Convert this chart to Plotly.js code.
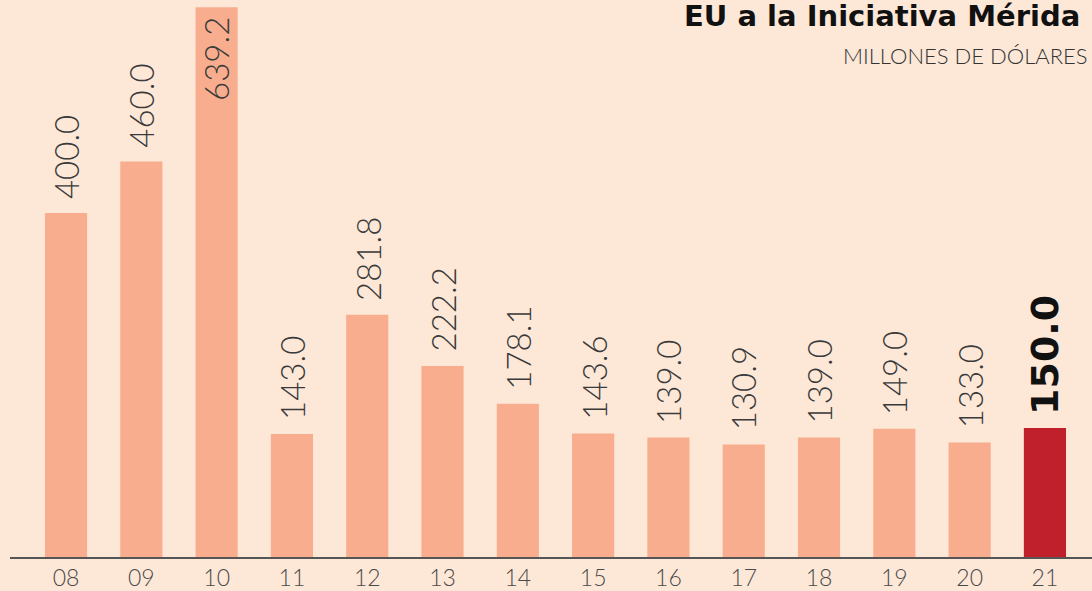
<!DOCTYPE html>
<html><head><meta charset="utf-8">
<script src="https://cdn.plot.ly/plotly-3.0.1.min.js"></script>
<style>html,body{margin:0;padding:0;background:#fde8d8;}#chart{width:1092px;height:591px;}</style>
</head><body><div id="chart"></div>
<script>
const years = ['08','09','10','11','12','13','14','15','16','17','18','19','20','21'];
const values = [400.0,460.0,639.2,143.0,281.8,222.2,178.1,143.6,139.0,130.9,139.0,149.0,133.0,150.0];
const labels = ['400.0','460.0','639.2','143.0','281.8','222.2','178.1','143.6','139.0','130.9','139.0','149.0','133.0','150.0'];
const title = 'EU a la Iniciativa Mérida';
const subtitle = 'MILLONES DE DÓLARES';

const last = values.length - 1;
const colors = values.map((v,i)=> i===last ? '#c0202b' : '#f8ae8e');

const trace = {
  type:'bar', x: years, y: values,
  marker:{color:colors}, hoverinfo:'none'
};

const valueAnns = years.map((yr,i)=>{
  const isLast = i===last;
  const inside = i===2;
  return {
    xref:'x', yref:'y', x: i, y: values[i], text: labels[i], showarrow:false,
    textangle:-90, xanchor:'center', yanchor: inside ? 'top' : 'bottom',
    yshift: inside ? -8 : (isLast ? 11 : 12),
    font: isLast ? {family:'DejaVu Sans', size:38, color:'#111', weight:'bold'}
                 : {family:'Lato', size:33, color:'#3a3a3a', weight:300}
  };
});

const layout = {
  width:1092, height:591,
  margin:{l:10, r:0, t:0, b:34},
  paper_bgcolor:'#fde8d8', plot_bgcolor:'#fde8d8',
  bargap:0.44, showlegend:false,
  xaxis:{type:'category', range:[-0.744, 13.625], showline:true, linecolor:'#555', linewidth:1.5,
    ticks:'', showgrid:false, zeroline:false,
    tickfont:{family:'Lato', size:23, color:'#4a4a4a', weight:300}},
  yaxis:{range:[0, 647.7], visible:false, showgrid:false, zeroline:false},
  annotations: valueAnns.concat([
    {xref:'paper', yref:'paper', x:(1082-10)/1082, y:1, xanchor:'right', yanchor:'top', yshift:3,
     text:title, showarrow:false, font:{family:'DejaVu Sans', size:29, color:'#111', weight:'bold'}},
    {xref:'paper', yref:'paper', x:(1090-10)/1082, y:1, xanchor:'right', yanchor:'top', yshift:-40,
     text:subtitle, showarrow:false, font:{family:'Lato', size:22, color:'#333', weight:300}}
  ])
};
Plotly.newPlot('chart',[trace],layout,{displayModeBar:false, staticPlot:true});
</script></body></html>
